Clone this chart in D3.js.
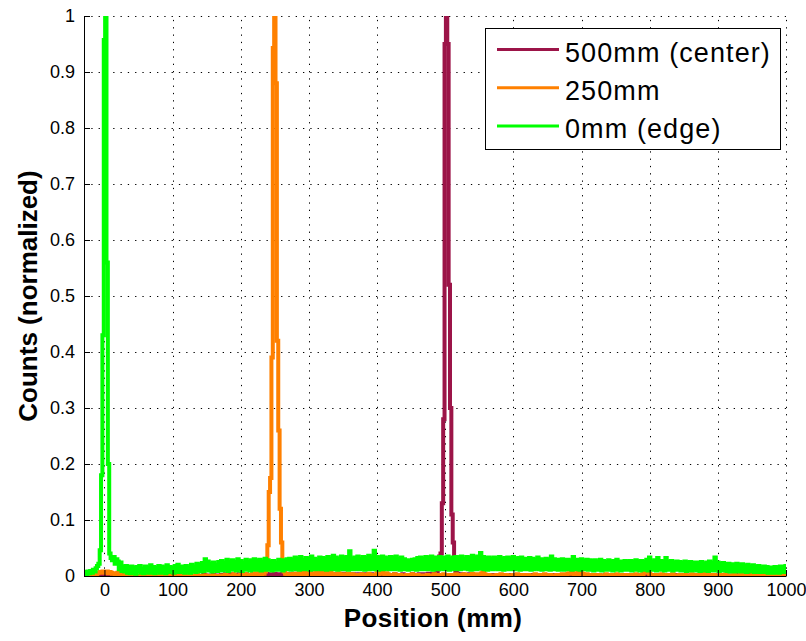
<!DOCTYPE html>
<html>
<head>
<meta charset="utf-8">
<script src="https://cdn.jsdelivr.net/npm/d3@7"></script>
<style>
  html, body { margin: 0; padding: 0; background: #fff; }
  svg { display: block; font-family: "Liberation Sans", Arial, Helvetica, sans-serif; }
</style>
</head>
<body>
<svg id="chart" width="806" height="641"></svg>
<script>
// Histogram of detected positions for three source positions (2 mm bins, -30 ... 1000 mm).
const binStart = -30;
const binWidth = 2;

// Counts per bin (per-mille of each series' maximum), source at 500 mm (center)
const counts500 = [
  0,0,0,0,0,0,0,0,0,1,0,0,1,0,0,1,0,0,0,1,0,0,0,0,1,
  0,0,1,0,0,0,0,1,0,0,0,0,0,1,0,0,0,0,0,0,1,0,0,0,0,
  1,0,0,0,0,1,0,0,0,0,0,1,0,0,0,0,1,0,0,0,0,0,1,0,0,
  0,0,1,0,0,0,0,0,1,0,0,0,0,2,0,0,1,0,0,0,2,0,0,1,0,
  0,2,1,0,3,1,0,2,1,3,0,2,1,0,3,2,1,0,2,3,1,0,2,1,3,
  2,3,1,2,4,2,1,3,2,4,1,2,3,1,2,4,2,3,1,2,3,4,2,1,3,
  2,1,3,2,4,1,2,3,1,2,4,3,1,2,3,2,1,3,2,4,1,2,3,1,2,
  3,1,2,4,2,1,3,2,1,3,2,1,2,3,1,2,4,1,2,3,1,2,1,3,2,
  1,2,3,1,2,1,3,2,1,2,1,3,1,2,1,2,3,1,2,1,2,1,3,1,2,
  1,2,1,3,1,2,1,2,1,3,1,2,1,1,2,1,3,1,2,2,1,3,2,2,3,
  2,3,2,4,3,2,4,3,4,5,12,35,40,130,280,950,1000,950,520,300,110,60,20,8,4,
  3,2,1,3,2,1,2,1,3,1,2,1,2,1,1,2,1,3,1,2,1,1,2,1,1,
  2,1,1,2,1,1,2,1,1,1,2,1,1,2,1,1,1,2,1,1,2,1,1,1,2,
  1,1,2,1,1,1,2,1,1,2,1,1,1,2,1,1,1,1,2,1,1,1,2,1,1,
  1,2,1,1,1,2,1,1,1,1,2,1,1,1,2,1,1,1,1,2,1,1,1,1,2,
  1,1,1,2,1,1,1,1,2,1,1,1,1,1,2,1,1,1,1,2,1,1,1,1,1,
  2,1,1,1,1,1,2,1,1,1,1,1,1,2,1,1,1,1,1,2,1,1,1,1,1,
  1,2,1,1,1,1,1,1,2,1,1,1,1,1,1,2,1,1,1,1,1,1,2,1,1,
  1,1,1,1,2,1,1,1,1,1,1,1,2,1,1,1,1,1,1,1,2,1,1,1,1,
  1,1,1,2,1,1,1,1,1,1,1,1,2,1,1,1,1,1,1,2,1,1,1,1,1,
  1,1,2,1,1,1,1,1,1,2,1,1,1,1,1,1
];

// Source at 250 mm
const counts250 = [
  0,0,0,0,0,1,0,0,2,3,5,6,7,6,8,7,6,8,5,7,6,4,5,3,2,
  6,4,3,2,1,0,0,1,0,0,0,0,1,0,0,0,0,0,1,0,0,0,0,0,0,
  0,0,1,0,0,0,0,0,0,1,0,0,0,0,0,0,0,1,0,0,0,0,0,0,0,
  0,0,0,1,0,0,0,0,2,0,0,0,0,0,1,0,0,0,0,0,1,0,0,0,0,
  0,1,0,0,2,0,0,1,0,0,3,0,1,0,0,2,0,0,1,3,0,2,0,1,4,
  5,3,2,4,6,3,5,4,8,25,55,150,175,390,943,1000,880,420,260,120,60,22,8,4,2,
  1,3,0,2,4,1,3,0,5,2,7,3,1,6,2,4,8,3,1,5,2,6,3,9,2,
  5,8,3,1,6,2,9,4,1,3,0,2,5,1,0,3,1,0,2,4,1,0,3,0,1,
  0,2,0,1,3,0,1,0,2,4,1,0,2,0,1,5,3,8,9,6,4,2,5,3,1,
  2,0,1,3,0,1,0,2,0,1,0,0,2,0,1,0,3,0,1,0,2,0,1,0,0,
  1,0,2,0,1,0,0,3,1,0,2,0,1,0,3,2,0,1,0,2,0,1,0,3,0,
  1,2,0,1,3,0,2,1,0,2,4,1,0,3,1,0,2,5,7,3,1,0,2,0,1,
  0,1,0,2,0,1,3,0,1,0,2,0,1,0,0,2,1,0,3,0,1,0,2,0,1,
  0,2,0,1,0,0,3,1,0,2,0,1,0,3,0,1,0,2,0,1,0,0,2,0,1,
  0,3,1,0,2,4,5,4,6,5,3,5,4,6,3,5,4,2,1,3,0,2,1,0,2,
  0,1,0,2,0,1,0,0,3,0,1,0,2,0,1,0,3,1,0,2,0,1,0,2,0,
  1,0,2,0,1,3,0,1,0,2,3,6,9,11,7,4,2,0,1,0,2,0,1,0,3,
  0,1,0,2,0,1,0,3,0,1,0,0,2,0,1,0,2,0,1,0,0,3,0,1,0,
  2,0,1,0,3,4,6,5,2,0,1,0,2,0,1,0,0,2,0,1,0,3,0,1,0,
  1,0,2,0,0,1,0,3,0,1,0,2,0,1,0,0,2,0,1,0,3,0,1,0,2,
  0,1,0,2,0,1,0,0,3,0,1,0,2,0,1,0
];

// Source at 0 mm (edge)
const counts0 = [
  4,7,3,8,5,9,6,11,8,14,18,22,46,180,430,957,1000,560,200,40,32,28,34,22,30,
  26,12,24,9,16,8,18,6,15,5,17,7,14,4,16,9,18,6,13,5,17,8,15,6,19,
  7,16,5,14,9,18,6,17,8,15,5,19,7,16,10,14,6,18,8,20,7,16,9,17,6,
  18,8,15,6,20,9,17,7,22,10,19,8,23,9,30,12,26,10,21,8,24,11,20,9,25,
  11,27,10,24,12,29,9,26,13,28,11,25,10,30,12,27,9,24,13,29,11,26,10,28,12,
  30,11,27,13,29,10,26,12,31,11,28,12,25,10,27,13,24,11,29,12,26,10,28,13,30,
  12,31,11,29,14,33,12,30,11,34,13,28,12,32,14,30,11,35,13,31,12,29,14,33,12,
  32,13,30,11,34,14,31,12,36,13,33,11,30,14,35,12,32,13,34,11,44,13,31,12,33,
  13,35,12,31,14,34,11,32,13,36,12,33,14,45,12,34,11,32,13,35,12,33,14,31,12,
  34,13,32,12,35,14,31,11,33,13,30,12,28,11,27,13,29,12,30,11,32,13,33,12,31,
  13,34,12,32,14,35,11,33,13,31,12,34,14,32,12,33,13,35,11,31,14,33,12,34,13,
  33,12,35,13,31,14,34,12,32,11,36,13,33,12,35,14,41,13,34,12,32,11,33,14,31,
  12,33,14,31,12,34,13,30,11,32,14,33,12,31,13,34,12,30,14,32,11,33,13,31,12,
  30,13,32,11,31,12,29,14,33,12,30,11,28,13,31,12,29,11,35,13,30,12,28,11,29,
  12,30,11,28,13,29,12,27,11,34,13,29,12,28,11,30,12,27,13,29,11,28,12,27,10,
  28,12,26,11,29,10,27,12,25,11,28,13,26,10,27,12,29,11,26,10,25,12,27,11,26,
  11,27,10,25,12,28,11,26,10,27,12,25,11,29,10,33,12,26,11,28,10,32,12,27,11,
  26,10,32,11,25,12,27,10,24,11,26,12,25,10,23,11,26,9,24,11,25,10,23,12,24,
  10,23,9,25,11,22,10,24,9,26,11,23,10,33,12,24,9,22,11,23,10,21,9,22,8,
  21,9,20,8,22,10,19,8,21,9,18,7,20,8,17,9,19,7,16,8,18,7,15,8,17,
  7,16,6,15,8,14,6,16,7,15,6,17,8,16,7,18
];

const seriesNames = ["500mm (center)", "250mm", "0mm (edge)"];
const seriesCounts = [counts500, counts250, counts0];
const seriesColors = ["#9c1448", "#ff8000", "#00ff00"];

const xTicks = [0, 100, 200, 300, 400, 500, 600, 700, 800, 900, 1000];
const yTicks = [0, 0.1, 0.2, 0.3, 0.4, 0.5, 0.6, 0.7, 0.8, 0.9, 1];

const svg = d3.select("#chart");
const plotLeft = 84, plotRight = 786, plotTop = 16, plotBottom = 576;

const x = d3.scaleLinear().domain([-30, 1000]).range([plotLeft, plotRight]);
const y = d3.scaleLinear().domain([0, 1]).range([plotBottom, plotTop]);

// Dotted grid
const grid = svg.append("g").attr("stroke", "#000").attr("stroke-width", 1)
  .attr("stroke-dasharray", "1.3,6");
xTicks.forEach(t => {
  const px = Math.round(x(t)) + 0.5;
  grid.append("line").attr("x1", px).attr("x2", px).attr("y1", plotBottom).attr("y2", plotTop);
});
yTicks.forEach(t => {
  const py = Math.round(y(t)) + 0.5;
  grid.append("line").attr("x1", plotLeft).attr("x2", plotRight).attr("y1", py).attr("y2", py);
});

// Data
svg.append("clipPath").attr("id", "plot-clip")
  .append("rect").attr("x", plotLeft).attr("y", plotTop)
  .attr("width", plotRight - plotLeft).attr("height", plotBottom - plotTop);

const line = d3.line()
  .x((d, i) => x(binStart + i * binWidth))
  .y(d => y(d))
  .curve(d3.curveStep);

const dataG = svg.append("g").attr("clip-path", "url(#plot-clip)");
seriesCounts.forEach((c, k) => {
  const m = d3.max(c);
  const norm = c.map(v => v / m);
  dataG.append("path")
    .datum(norm)
    .attr("d", line)
    .attr("fill", "none")
    .attr("stroke", seriesColors[k])
    .attr("stroke-width", 4)
    .attr("stroke-linejoin", "miter");
});

// Axes
const fmt = d => String(+d.toFixed(1));
const yAxis = svg.append("g").attr("transform", `translate(${plotLeft},0)`)
  .call(d3.axisLeft(y).tickValues(yTicks).tickFormat(fmt).tickSize(-6).tickSizeOuter(0).tickPadding(9));
const xAxis = svg.append("g").attr("transform", `translate(0,${plotBottom})`)
  .call(d3.axisBottom(x).tickValues(xTicks).tickFormat(fmt).tickSize(-6).tickSizeOuter(0).tickPadding(7));
[yAxis, xAxis].forEach(a => {
  a.selectAll("text").attr("font-size", 18).attr("fill", "#000")
    .attr("font-family", "'Liberation Sans', Arial, sans-serif");
  a.selectAll("line").attr("stroke", "#000");
  a.select(".domain").attr("stroke", "#000");
});

// Axis titles
svg.append("text")
  .attr("x", (plotLeft + plotRight) / 2 - 2).attr("y", 627)
  .attr("text-anchor", "middle").attr("font-size", 26).attr("font-weight", "bold")
  .attr("letter-spacing", 0.4)
  .text("Position (mm)");
svg.append("text")
  .attr("transform", `translate(37,${(plotTop + plotBottom) / 2}) rotate(-90)`)
  .attr("text-anchor", "middle").attr("font-size", 26).attr("font-weight", "bold")
  .text("Counts (normalized)");

// Legend
const lg = svg.append("g");
lg.append("rect").attr("x", 485.5).attr("y", 28.5).attr("width", 295).attr("height", 121)
  .attr("fill", "#fff").attr("stroke", "#000").attr("stroke-width", 1);
seriesNames.forEach((name, k) => {
  const ly = 49.5 + k * 38.2;
  lg.append("line").attr("x1", 497).attr("x2", 559).attr("y1", ly).attr("y2", ly)
    .attr("stroke", seriesColors[k]).attr("stroke-width", 3);
  lg.append("text").attr("x", 565).attr("y", ly + 12.5).attr("font-size", 27)
    .attr("letter-spacing", 1.1).text(name);
});
</script>
</body>
</html>
